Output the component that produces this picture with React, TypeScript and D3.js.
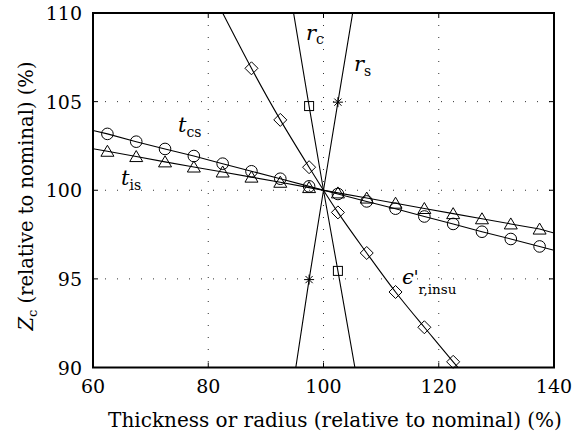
import React from 'react';
import * as d3 from 'd3';

const xTicks = [60, 80, 100, 120, 140];
const yTicks = [90, 95, 100, 105, 110];
const gridX = [80, 100, 120];
const gridY = [95, 100, 105];

const tcsX = [60, 62.5, 67.5, 72.5, 77.5, 82.5, 87.5, 92.5, 97.5, 102.5, 107.5, 112.5, 117.5, 122.5, 127.5, 132.5, 137.5, 140];
const tcsY = [103.37, 103.18, 102.74, 102.33, 101.93, 101.5, 101.07, 100.65, 100.22, 99.79, 99.37, 98.96, 98.52, 98.1, 97.66, 97.25, 96.83, 96.61];

const tisX = [60, 62.5, 67.5, 72.5, 77.5, 82.5, 87.5, 92.5, 97.5, 102.5, 107.5, 112.5, 117.5, 122.5, 127.5, 132.5, 137.5, 140];
const tisY = [102.34, 102.2, 101.9, 101.6, 101.31, 101.03, 100.74, 100.45, 100.15, 99.85, 99.56, 99.27, 98.97, 98.68, 98.39, 98.1, 97.81, 97.59];

const epsX = [82.5, 87.5, 92.5, 97.5, 102.5, 107.5, 112.5, 117.5, 122.5, 127.5];
const epsY = [110.0, 106.88, 103.97, 101.3, 98.75, 96.46, 94.26, 92.27, 90.32, 88.45];

const rcX = [92.5, 97.5, 100, 102.5, 107.5];
const rcY = [114.5, 104.75, 100, 95.45, 86.2];

const rsX = [92.5, 97.5, 100, 102.5, 107.5];
const rsY = [84.2, 94.96, 100, 104.97, 114.8];

const W = 576, H = 437;
const L = 93, R = 554, T = 13, B = 367.5;
const FONT = 'DejaVu Serif';

type Pt = [number, number];
const zip = (xs: number[], ys: number[]): Pt[] => xs.map((x, i) => [x, ys[i]]);

export default function App() {
  const x = d3.scaleLinear().domain([60, 140]).range([L, R]);
  const y = d3.scaleLinear().domain([90, 110]).range([B, T]);

  const straight = d3.line<Pt>().x(d => x(d[0])).y(d => y(d[1]));
  const smooth = d3.line<Pt>().x(d => x(d[0])).y(d => y(d[1])).curve(d3.curveNatural);

  const isMarker = (d: Pt) => Math.abs(((d[0] - 2.5) % 5)) < 1e-6 && d[1] < 109.5 && d[1] > 90;

  const tcs = zip(tcsX, tcsY);
  const tis = zip(tisX, tisY);
  const eps = zip(epsX, epsY);
  const rc = zip(rcX, rcY);
  const rs = zip(rsX, rsY);

  const circle = (d: Pt, i: number) => (
    <circle key={i} cx={x(d[0])} cy={y(d[1])} r={5.8} fill="none" stroke="#000" strokeWidth={1} />
  );
  const tri = (d: Pt, i: number) => {
    const cx = x(d[0]), cy = y(d[1]);
    return <path key={i} d={`M${cx},${cy - 6}L${cx + 6.5},${cy + 5}L${cx - 6.5},${cy + 5}Z`} fill="none" stroke="#000" strokeWidth={1} />;
  };
  const diamond = (d: Pt, i: number) => {
    const cx = x(d[0]), cy = y(d[1]);
    const s = 6.5;
    return <path key={i} d={`M${cx},${cy - s}L${cx + s},${cy}L${cx},${cy + s}L${cx - s},${cy}Z`} fill="none" stroke="#000" strokeWidth={1} />;
  };
  const square = (d: Pt, i: number) => {
    const cx = x(d[0]), cy = y(d[1]);
    return <rect key={i} x={cx - 4.5} y={cy - 4.5} width={9} height={9} fill="none" stroke="#000" strokeWidth={1} />;
  };
  const star = (d: Pt, i: number) => {
    const cx = x(d[0]), cy = y(d[1]);
    const s = 5, t = 3.6;
    return <path key={i} d={`M${cx - s},${cy}L${cx + s},${cy}M${cx},${cy - s}L${cx},${cy + s}M${cx - t},${cy - t}L${cx + t},${cy + t}M${cx - t},${cy + t}L${cx + t},${cy - t}`} fill="none" stroke="#000" strokeWidth={1} />;
  };

  return (
    <svg width={W} height={H} style={{ position: 'absolute', left: 0, top: 0, background: '#fff' }} fontFamily={FONT}>
      <defs>
        <clipPath id="plotClip">
          <rect x={L} y={T} width={R - L} height={B - T} />
        </clipPath>
      </defs>
      <rect x={0} y={0} width={W} height={H} fill="#fff" />
      {/* grid */}
      {gridX.map(v => (
        <line key={'gx' + v} x1={x(v)} x2={x(v)} y1={T} y2={B} stroke="#333" strokeWidth={1} strokeDasharray="1 11" />
      ))}
      {gridY.map(v => (
        <line key={'gy' + v} x1={L} x2={R} y1={y(v)} y2={y(v)} stroke="#333" strokeWidth={1} strokeDasharray="1 11" />
      ))}
      {/* lines */}
      <g clipPath="url(#plotClip)" fill="none" stroke="#000" strokeWidth={1.1}>
        <path d={straight(tcs) || ''} />
        <path d={straight(tis) || ''} />
        <path d={smooth(eps) || ''} />
        <path d={straight(rc) || ''} />
        <path d={straight(rs) || ''} />
      </g>
      {/* markers */}
      <g>
        {tcs.filter(isMarker).map(circle)}
        {tis.filter(isMarker).map(tri)}
        {eps.filter(isMarker).map(diamond)}
        {rc.filter(isMarker).map(square)}
        {rs.filter(isMarker).map(star)}
      </g>
      {/* ticks */}
      {xTicks.map(v => (
        <g key={'xt' + v}>
          <line x1={x(v)} x2={x(v)} y1={B} y2={B - 5} stroke="#000" />
          <line x1={x(v)} x2={x(v)} y1={T} y2={T + 5} stroke="#000" />
          <text x={x(v)} y={393} textAnchor="middle" fontSize={19}>{v}</text>
        </g>
      ))}
      {yTicks.map(v => (
        <g key={'yt' + v}>
          <line x1={L} x2={L + 5} y1={y(v)} y2={y(v)} stroke="#000" />
          <line x1={R} x2={R - 5} y1={y(v)} y2={y(v)} stroke="#000" />
          <text x={82} y={y(v) + 7} textAnchor="end" fontSize={19}>{v}</text>
        </g>
      ))}
      {/* frame */}
      <rect x={L} y={T} width={R - L} height={B - T} fill="none" stroke="#000" strokeWidth={2} />
      {/* axis labels */}
      <text x={335} y={427} textAnchor="middle" fontSize={20}>Thickness or radius (relative to nominal) (%)</text>
      <text transform={`translate(33,196) rotate(-90)`} textAnchor="middle" fontSize={19.5}>
        <tspan fontStyle="italic">Z</tspan>
        <tspan fontSize={13} dy={4}>c</tspan>
        <tspan dy={-4}> (relative to nominal) (%)</tspan>
      </text>
      {/* series labels */}
      <text x={306} y={40} fontSize={21}>
        <tspan fontStyle="italic">r</tspan>
        <tspan fontSize={14} dy={4}>c</tspan>
      </text>
      <text x={354} y={71} fontSize={21}>
        <tspan fontStyle="italic">r</tspan>
        <tspan fontSize={14} dy={5}>s</tspan>
      </text>
      <text x={178} y={132} fontSize={21}>
        <tspan fontStyle="italic">t</tspan>
        <tspan fontSize={14} dy={5}>cs</tspan>
      </text>
      <text x={121} y={185} fontSize={21}>
        <tspan fontStyle="italic">t</tspan>
        <tspan fontSize={14} dy={5}>is</tspan>
      </text>
      <text x={402} y={284} fontSize={21}>
        <tspan fontStyle="italic">ϵ</tspan>
        <tspan fontFamily="DejaVu Sans" fontStyle="italic" fontSize={17} dy={-1}>'</tspan>
        <tspan fontSize={13.5} dy={11}>r,insu</tspan>
      </text>
    </svg>
  );
}
